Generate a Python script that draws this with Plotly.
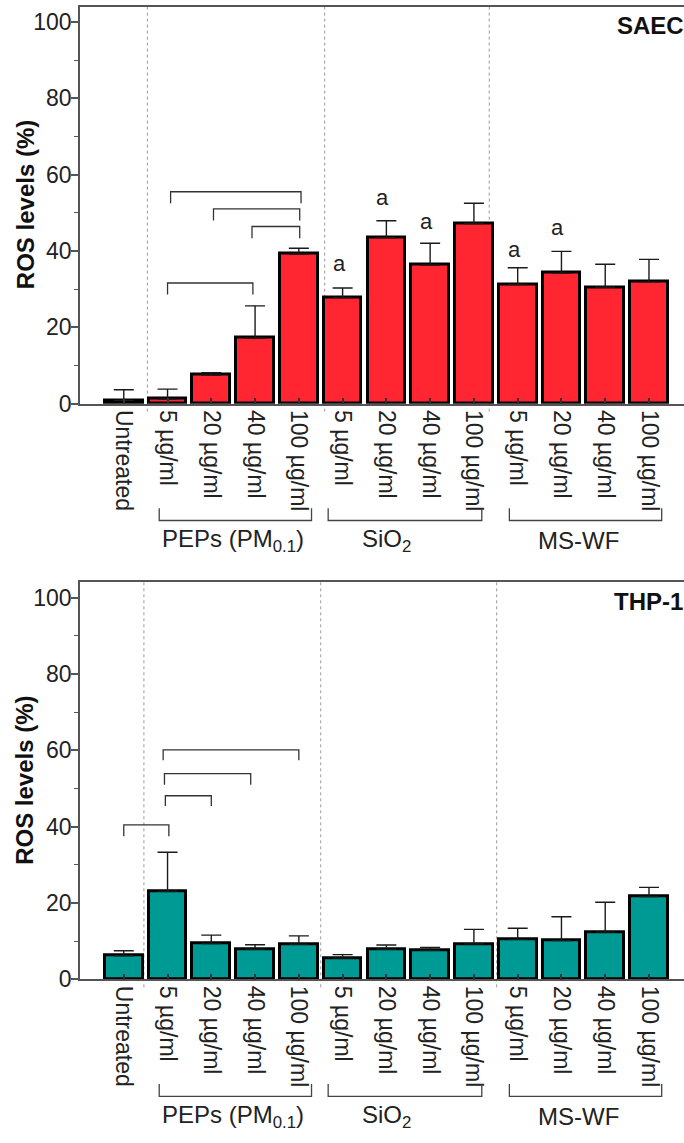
import plotly.graph_objects as go

# ---------------- data ----------------
tick_labels = ["Untreated",
               "5 µg/ml", "20 µg/ml", "40 µg/ml", "100 µg/ml",
               "5 µg/ml", "20 µg/ml", "40 µg/ml", "100 µg/ml",
               "5 µg/ml", "20 µg/ml", "40 µg/ml", "100 µg/ml"]
positions = list(range(len(tick_labels)))

saec_mean = [0.85, 1.2, 7.5, 17.2, 39.2, 27.8, 43.5, 36.3, 47.2, 31.2, 34.2, 30.5, 31.9]
saec_err = [2.8, 2.6, 0.6, 8.4, 1.5, 2.5, 4.4, 5.7, 5.3, 4.4, 5.7, 6.0, 5.9]

thp1_mean = [6.2, 23.1, 9.4, 7.9, 9.2, 5.6, 7.9, 7.6, 9.3, 10.5, 10.2, 12.4, 21.7]
thp1_err = [1.3, 10.2, 2.2, 1.2, 2.2, 0.9, 1.1, 0.8, 3.8, 2.9, 6.2, 7.8, 2.4]

# letter "a" marks (SAEC): bar index, height of letter centre
saec_a_idx = [5, 6, 7, 9, 10]
saec_a_y = [36.6, 54.1, 47.8, 40.5, 46.1]

# significance brackets: x0, x1, y (bar), y legs
saec_brackets = [(1.07, 4.05, 55.5, 52.5), (2.05, 4.02, 51.0, 48.0),
                 (2.93, 4.02, 46.4, 43.3), (1.0, 2.95, 31.6, 28.6)]
thp1_brackets = [(0.0, 1.03, 40.5, 37.5), (0.95, 2.0, 48.1, 45.4),
                 (0.93, 2.9, 53.9, 51.0), (0.9, 4.0, 60.1, 57.4)]

saec_seps = [0.54, 4.59, 8.35]
thp1_seps = [0.46, 4.50, 8.52]

groups = ["PEPs (PM<sub>0.1</sub>)", "SiO<sub>2</sub>", "MS-WF"]
group_spans = [(0.81, 4.29), (4.67, 8.18), (8.81, 12.29)]
group_label_x = [2.5, 6.0, 10.38]

panel_names = ["SAEC", "THP-1"]
RED = "#FF2631"
TEAL = "#009A95"

# ---------------- layout helpers ----------------
W, H = 684, 1143
L = 80
FONT = "Liberation Sans, Arial, sans-serif"


def py(p):  # pixel from top -> paper y
    return 1 - p / H


def px(p):  # pixel from left -> paper x
    return (p - L) / (W - L)


panels = [
    dict(mean=saec_mean, err=saec_err, color=RED, top=6.7, bottom=408.3,
         brackets=saec_brackets, seps=saec_seps, name=panel_names[0], xa="x", ya="y",
         name_x=615),
    dict(mean=thp1_mean, err=thp1_err, color=TEAL, top=589.0, bottom=990.7,
         brackets=thp1_brackets, seps=thp1_seps, name=panel_names[1], xa="x2", ya="y2",
         name_x=612),
]

fig = go.Figure()
shapes = []
annotations = []
LINE_C = "#333333"

for k, p in enumerate(panels):
    fig.add_trace(go.Bar(
        x=positions, y=p["mean"], xaxis=p["xa"], yaxis=p["ya"],
        width=0.86,
        marker=dict(color=p["color"], line=dict(color="#000000", width=3)),
        error_y=dict(type="data", array=p["err"], arrayminus=[0] * len(p["err"]),
                     symmetric=False, color="#1a1a1a", thickness=1.4, width=10),
        showlegend=False,
    ))
    # significance brackets
    for (x0, x1, yb, yl) in p["brackets"]:
        shapes.append(dict(type="path", xref=p["xa"], yref=p["ya"],
                           path=f"M {x0} {yl} L {x0} {yb} L {x1} {yb} L {x1} {yl}",
                           line=dict(color=LINE_C, width=1.3)))
    # dotted separators
    for s in p["seps"]:
        shapes.append(dict(type="line", xref=p["xa"], yref="paper", layer="below",
                           x0=s, x1=s, y0=py(p["top"]), y1=py(p["bottom"] + 10),
                           line=dict(color="#9a9a9a", width=1, dash="dot")))
    # group brackets below axis
    off = p["bottom"] - 408.3
    for (g0, g1), gname, gx in zip(group_spans, groups, group_label_x):
        shapes.append(dict(type="path", xref=p["xa"], yref="paper",
                           path=f"M {g0} {py(514 + off)} L {g0} {py(526.5 + off)} "
                                f"L {g1} {py(526.5 + off)} L {g1} {py(514 + off)}",
                           line=dict(color="#444444", width=1.3)))
        annotations.append(dict(xref=p["xa"], yref="paper", x=gx, y=py(547 + off),
                                text=gname, showarrow=False, xanchor="center",
                                yanchor="middle",
                                font=dict(family=FONT, size=24, color="#222222")))
    # y title
    annotations.append(dict(xref="paper", yref="paper", x=px(25),
                            y=py((p["top"] + p["bottom"]) / 2),
                            text="<b>ROS levels (%)</b>", textangle=-90, showarrow=False,
                            xanchor="center", yanchor="middle",
                            font=dict(family=FONT, size=24, color="#111111")))
    # panel name
    annotations.append(dict(xref="paper", yref="paper", x=px(p["name_x"]),
                            y=py(p["top"] + 19),
                            text=f"<b>{p['name']}</b>", showarrow=False,
                            xanchor="left", yanchor="middle",
                            font=dict(family=FONT, size=24, color="#111111")))

for i, yv in zip(saec_a_idx, saec_a_y):
    annotations.append(dict(xref="x", yref="y", x=i - 0.08, y=yv, text="a", showarrow=False,
                            xanchor="center", yanchor="middle",
                            font=dict(family=FONT, size=22, color="#222222")))

xaxis_common = dict(range=[-1.0, 12.8], tickvals=positions, ticktext=tick_labels,
                    tickangle=90, ticks="inside", ticklen=6, tickwidth=1.5,
                    tickcolor="#333333", showline=True, linecolor="#555555",
                    linewidth=1.5, mirror=True, showgrid=False, zeroline=False,
                    tickfont=dict(family=FONT, size=23, color="#222222"))
yaxis_common = dict(range=[0, 104], tickvals=[0, 20, 40, 60, 80, 100], ticks="outside",
                    ticklen=7, tickwidth=1.5, tickcolor="#555555", showline=True,
                    linecolor="#555555", linewidth=1.5, showgrid=False, zeroline=False,
                    ticklabelstandoff=-5,
                    minor=dict(tickvals=[10, 30, 50, 70, 90], ticks="outside", ticklen=4,
                               tickwidth=1.3, tickcolor="#555555", showgrid=False),
                    tickfont=dict(family=FONT, size=23, color="#222222"))

fig.update_layout(
    width=W, height=H,
    margin=dict(l=L, r=0, t=0, b=0),
    paper_bgcolor="white", plot_bgcolor="rgba(0,0,0,0)",
    bargap=0,
    xaxis=dict(**xaxis_common, anchor="y", domain=[0, 1]),
    yaxis=dict(**yaxis_common, anchor="x", domain=[py(408.3), py(6.7)]),
    xaxis2=dict(**xaxis_common, anchor="y2", domain=[0, 1]),
    yaxis2=dict(**yaxis_common, anchor="x2", domain=[py(990.7), py(589.0)]),
    shapes=shapes, annotations=annotations,
    font=dict(family=FONT),
)

fig.write_html("out.html")
